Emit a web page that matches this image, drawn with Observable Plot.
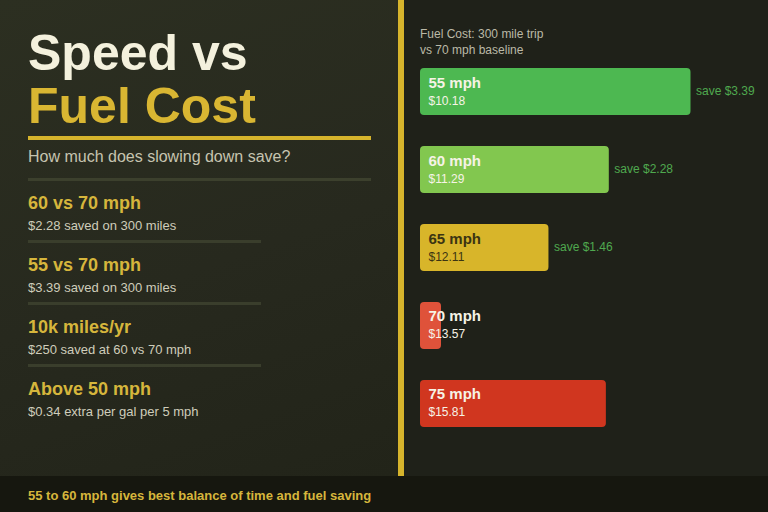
<!DOCTYPE html>
<html>
<head>
<meta charset="utf-8">
<script src="https://cdn.jsdelivr.net/npm/d3@7"></script>
<script src="https://cdn.jsdelivr.net/npm/@observablehq/plot@0.6"></script>
<style>
  html, body { margin: 0; padding: 0; }
  body { width: 768px; height: 512px; overflow: hidden; position: relative; background: #1f2119; font-family: "Liberation Sans", Arial, sans-serif; }
  .abs { position: absolute; white-space: nowrap; line-height: 1; }
  #left { position: absolute; left: 0; top: 0; width: 398px; height: 476px; background: linear-gradient(160deg, #2c2f21 0%, #27291e 55%, #222419 100%); }
  #vline { position: absolute; left: 398px; top: 0; width: 6px; height: 476px; background: #d6b42c; }
  #footer { position: absolute; left: 0; top: 476px; width: 768px; height: 36px; background: #16170f; }
  #chart { position: absolute; left: 404px; top: 0; }
</style>
</head>
<body>
<div id="left"></div>
<div id="vline"></div>
<div id="footer"></div>
<div id="chart"></div>
<script>
// ---- data ----
const titleLine1 = "Speed vs";
const titleLine2 = "Fuel Cost";
const subtitle = "How much does slowing down save?";
const statHeads = ["60 vs 70 mph", "55 vs 70 mph", "10k miles/yr", "Above 50 mph"];
const statTexts = ["$2.28 saved on 300 miles", "$3.39 saved on 300 miles", "$250 saved at 60 vs 70 mph", "$0.34 extra per gal per 5 mph"];
const chartTitle = ["Fuel Cost: 300 mile trip", "vs 70 mph baseline"];
const footerText = "55 to 60 mph gives best balance of time and fuel saving";

const speeds = ["55 mph", "60 mph", "65 mph", "70 mph", "75 mph"];
const costs = [10.18, 11.29, 12.11, 13.57, 15.81];
const savings = [3.39, 2.28, 1.46, 0, -2.24];
const barColors = ["#4db851", "#82c74f", "#d8b52a", "#df523a", "#d0361f"];

// ---- left panel text ----
function addText(txt, left, baseline, size, weight, color) {
  const d = document.createElement("div");
  d.className = "abs";
  d.textContent = txt;
  d.style.left = left + "px";
  d.style.top = (baseline - 0.8465 * size) + "px";
  d.style.fontSize = size + "px";
  d.style.fontWeight = weight;
  d.style.color = color;
  document.body.appendChild(d);
}
function addRule(left, top, width, height, color) {
  const d = document.createElement("div");
  d.style.cssText = `position:absolute;left:${left}px;top:${top}px;width:${width}px;height:${height}px;background:${color}`;
  document.body.appendChild(d);
}
addText(titleLine1, 28, 70, 50, 700, "#f4f1dd");
addText(titleLine2, 28, 123, 50, 700, "#d9b632");
addRule(28, 136, 343, 4, "#d6b42c");
addText(subtitle, 28, 163, 16, 400, "#c6c4b0");
addRule(28, 178, 343, 3, "#3c402d");
statHeads.forEach((h, i) => {
  const b = 209 + i * 62;
  addText(h, 28, b, 18, 700, "#d6b63c");
  addText(statTexts[i], 28, b + 21, 13, 400, "#cfcdbb");
  if (i < statHeads.length - 1) addRule(28, b + 31, 233, 3, "#3a3e2c");
});
addText(chartTitle[0], 420, 38, 12, 400, "#bbb9a7");
addText(chartTitle[1], 420, 54, 12, 400, "#bbb9a7");
addText(footerText, 28, 500, 13, 700, "#d6b63c");

// ---- bar chart ----
const rows = speeds.map((s, i) => ({speed: s, cost: costs[i], diff: savings[i], color: barColors[i]}));
const light = "#f6f3e6";
const dark = "#3b3412";

const chart = Plot.plot({
  width: 364,
  height: 476,
  margin: 0,
  style: {background: "transparent", overflow: "visible", fontFamily: "Liberation Sans, Arial, sans-serif"},
  x: {domain: [0, 4], range: [37, 37 + 4 * 73.6], axis: null},
  y: {domain: speeds, range: [68, 427], paddingInner: 0.397, paddingOuter: 0, round: false, axis: null},
  color: {type: "identity"},
  marks: [
    Plot.barX(rows, {x1: 0, x2: d => Math.abs(d.diff), y: "speed", fill: "color", rx: 4, insetLeft: -21}),
    Plot.text(rows, {x: 0, y: "speed", text: "speed", dx: -13, dy: -4.5, textAnchor: "start", lineAnchor: "bottom",
      fontSize: 15, fontWeight: 700, fill: d => d.speed === "65 mph" ? dark : light}),
    Plot.text(rows, {x: 0, y: "speed", text: d => "$" + d.cost.toFixed(2), dx: -13, dy: 12.5, textAnchor: "start", lineAnchor: "bottom",
      fontSize: 12, fill: d => d.speed === "65 mph" ? dark : light}),
    Plot.text(rows.filter(d => d.diff > 0), {x: d => Math.abs(d.diff), y: "speed", text: d => "save $" + d.diff.toFixed(2),
      dx: 5, dy: 2.5, textAnchor: "start", lineAnchor: "bottom", fontSize: 12, fill: "#4fa94f"})
  ]
});
document.getElementById("chart").appendChild(chart);
</script>
</body>
</html>
